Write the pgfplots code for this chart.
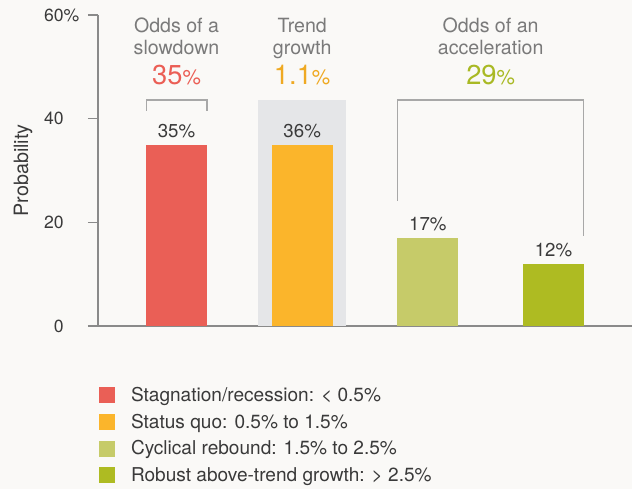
\documentclass[border=0pt]{standalone}
\usepackage{pgfplots}
\pgfplotsset{compat=1.18}
\usepackage{fontspec}
\setmainfont{TeX Gyre Heros}
\definecolor{bg}{HTML}{FAF9F7}
\definecolor{axisgray}{HTML}{8A8A8A}
\definecolor{txt}{HTML}{3A3A3A}
\definecolor{hdr}{HTML}{7A7A7A}
\definecolor{brk}{HTML}{A8A8A8}
\definecolor{band}{HTML}{E5E6E8}
\definecolor{cred}{HTML}{EA5F56}
\definecolor{corange}{HTML}{FBB52B}
\definecolor{clgreen}{HTML}{C6CB69}
\definecolor{cdgreen}{HTML}{AEBB22}
\definecolor{tred}{HTML}{EB5E55}
\definecolor{torange}{HTML}{EFA922}
\definecolor{tgreen}{HTML}{A9B924}
\begin{document}
\begin{tikzpicture}
\fill[bg] (-73.5pt,-122.25pt) rectangle (400.5pt,244.5pt);
\begin{axis}[
  at={(0pt,0pt)}, anchor=south west,
  scale only axis, width=400.5pt, height=233.25pt,
  xmin=-0.625, xmax=3.625, ymin=0, ymax=60,
  axis x line*=bottom, axis y line*=left,
  axis line style={draw=axisgray, line width=1.1pt},
  xtick=\empty,
  ytick={0,20,40,60}, yticklabels={0,20,40,60\rlap{\%}},
  tick align=outside, major tick length=7.5pt,
  tick style={draw=axisgray, line width=0.9pt},
  /pgf/number format/assume math mode=true,
  yticklabel style={font=\fontsize{13.2}{15}\selectfont, text=txt, inner sep=0pt, xshift=-18pt},
  ylabel={Probability},
  ylabel style={at={(axis description cs:-0.1404,0.5)}, anchor=center, font=\fontsize{14.8}{17}\selectfont, text=txt},
  clip=false,
  ybar, bar width=0.485, bar shift=0pt,
  legend image code/.code={\fill[#1] (0pt,-6pt) rectangle (12pt,6pt);},
  legend cell align=left,
  legend style={at={(axis description cs:0.0019,-0.179)}, anchor=north west,
    draw=none, fill=none, inner sep=0pt, row sep=0pt,
    font=\color{txt}\fontsize{14.3}{17}\selectfont,
    nodes={inner sep=0pt, minimum height=20pt},
    /tikz/every odd column/.append style={column sep=11.8pt}},
  every node near coord/.append style={anchor=base, inner sep=0pt, yshift=5.6pt,
    font=\fontsize{14}{16}\selectfont, text=txt},
]
\addplot[fill=band, draw=none, bar width=0.70, forget plot] coordinates {(1,43.6)};
\addplot[fill=cred, draw=none, nodes near coords, point meta=explicit symbolic] coordinates {(0,35) [35\%]};
\addlegendentry{Stagnation/recession: < 0.5\%}
\addplot[fill=corange, draw=none, nodes near coords, point meta=explicit symbolic] coordinates {(1,35) [36\%]};
\addlegendentry{Status quo: 0.5\% to 1.5\%}
\addplot[fill=clgreen, draw=none, nodes near coords, point meta=explicit symbolic] coordinates {(2,17) [17\%]};
\addlegendentry{Cyclical rebound: 1.5\% to 2.5\%}
\addplot[fill=cdgreen, draw=none, nodes near coords, point meta=explicit symbolic] coordinates {(3,12) [12\%]};
\addlegendentry{Robust above-trend growth: > 2.5\%}
% brackets
\draw[brk, line width=0.8pt] (axis cs:-0.2425,41.48) -- (axis cs:-0.2425,43.6) -- (axis cs:0.2425,43.6) -- (axis cs:0.2425,41.48);
\draw[brk, line width=0.8pt] (axis cs:1.7575,24.17) -- (axis cs:1.7575,43.6) -- (axis cs:3.2425,43.6) -- (axis cs:3.2425,17.36);
% headers
\tikzset{hd/.style={anchor=base, inner sep=0pt, text=hdr, font=\fontsize{14.7}{17}\selectfont}}
\node[hd] at (axis cs:0,56.66) {Odds of a};
\node[hd] at (axis cs:0,52.42) {slowdown};
\node[anchor=base, inner sep=0pt, text=tred] at (axis cs:0,46.63) {\fontsize{20.5}{24}\selectfont 35\fontsize{15.5}{18}\selectfont\%};
\node[hd] at (axis cs:1,56.66) {Trend};
\node[hd] at (axis cs:1,52.42) {growth};
\node[anchor=base, inner sep=0pt, text=torange] at (axis cs:1,46.63) {\fontsize{20.5}{24}\selectfont 1.1\fontsize{15.5}{18}\selectfont\%};
\node[hd] at (axis cs:2.5,56.66) {Odds of an};
\node[hd] at (axis cs:2.5,52.42) {acceleration};
\node[anchor=base, inner sep=0pt, text=tgreen] at (axis cs:2.5,46.63) {\fontsize{20.5}{24}\selectfont 29\fontsize{15.5}{18}\selectfont\%};
\end{axis}
\pgfresetboundingbox
\path[use as bounding box] (-73.5pt,-122.25pt) rectangle (400.5pt,244.5pt);
\end{tikzpicture}
\end{document}
